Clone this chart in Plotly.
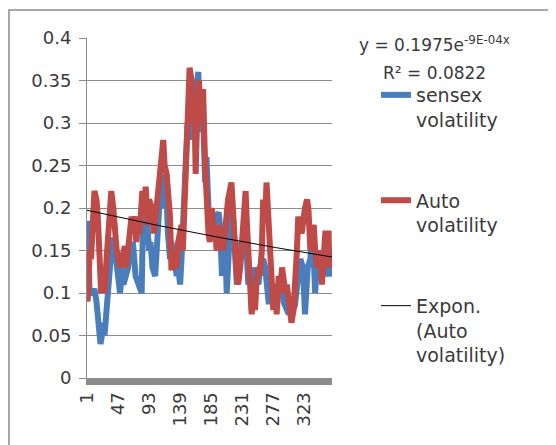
import math
import plotly.graph_objects as go

# ---- data ----
SENSEX_IDX = [1, 3, 5, 10, 12, 15, 17, 19, 21, 23, 25, 27, 31, 34, 37, 40, 42, 45, 47, 50,
              53, 55, 58, 62, 64, 69, 73, 77, 82, 84, 87, 89, 93, 95, 98, 102, 104, 108, 111, 114,
              116, 119, 121, 124, 126, 129, 134, 136, 139, 141, 145, 148, 150, 153, 156, 158, 161, 166, 168, 171,
              173, 176, 178, 181, 183, 186, 188, 196, 198, 201, 203, 205, 208, 210, 213, 215, 218, 220, 223, 225,
              228, 230, 233, 235, 238, 240, 243, 245, 248, 250, 252, 255, 257, 262, 265, 267, 270, 272, 275, 277,
              280, 282, 287, 290, 292, 296, 300, 302, 306, 309, 312, 314, 317, 321, 324, 328, 332, 334, 337, 339,
              342, 344, 347, 349, 351, 354, 359, 361, 364]
SENSEX_VAL = [0.185, 0.15, 0.10, 0.10, 0.105, 0.09, 0.075, 0.07, 0.04, 0.05, 0.065, 0.05, 0.10, 0.12, 0.15, 0.165, 0.155, 0.14, 0.12, 0.10,
              0.13, 0.11, 0.12, 0.13, 0.15, 0.16, 0.12, 0.11, 0.10, 0.19, 0.17, 0.195, 0.15, 0.16, 0.13, 0.12, 0.16, 0.20, 0.22, 0.24,
              0.20, 0.21, 0.17, 0.14, 0.16, 0.14, 0.12, 0.13, 0.11, 0.14, 0.20, 0.26, 0.30, 0.28, 0.34, 0.29, 0.33, 0.36, 0.30, 0.29,
              0.31, 0.23, 0.26, 0.20, 0.17, 0.19, 0.18, 0.195, 0.18, 0.12, 0.16, 0.18, 0.10, 0.13, 0.20, 0.21, 0.18, 0.14, 0.11, 0.12,
              0.16, 0.14, 0.17, 0.15, 0.14, 0.11, 0.12, 0.08, 0.10, 0.13, 0.12, 0.11, 0.13, 0.14, 0.13, 0.11, 0.09, 0.09, 0.10, 0.11,
              0.10, 0.09, 0.11, 0.12, 0.09, 0.08, 0.075, 0.09, 0.08, 0.085, 0.10, 0.12, 0.14, 0.13, 0.075, 0.13, 0.14, 0.17, 0.14, 0.10,
              0.14, 0.13, 0.15, 0.12, 0.14, 0.12, 0.13, 0.12, 0.13]

AUTO_IDX = [1, 2, 5, 7, 12, 15, 17, 22, 25, 27, 30, 32, 35, 37, 40, 42, 45, 50, 52, 57,
            59, 62, 64, 67, 69, 72, 74, 77, 79, 83, 85, 88, 91, 93, 97, 100, 104, 108, 111, 114,
            116, 119, 121, 124, 126, 129, 131, 134, 136, 139, 141, 143, 145, 147, 149, 151, 153, 156, 158, 160,
            162, 164, 167, 169, 173, 176, 178, 181, 183, 186, 188, 191, 193, 196, 198, 201, 203, 205, 208, 210,
            215, 218, 220, 223, 225, 228, 230, 234, 236, 238, 240, 243, 245, 248, 250, 252, 255, 257, 260, 262,
            265, 267, 270, 272, 275, 277, 280, 282, 285, 287, 290, 292, 295, 297, 301, 304, 307, 309, 312, 314,
            319, 324, 327, 329, 332, 334, 337, 339, 342, 344, 347, 349, 351, 354, 359, 360, 362, 364]
AUTO_VAL = [0.095, 0.09, 0.15, 0.14, 0.22, 0.21, 0.19, 0.10, 0.12, 0.10, 0.14, 0.16, 0.20, 0.22, 0.20, 0.17, 0.15, 0.13, 0.14, 0.155,
            0.13, 0.15, 0.16, 0.19, 0.18, 0.19, 0.16, 0.19, 0.17, 0.22, 0.20, 0.225, 0.18, 0.21, 0.20, 0.17, 0.20, 0.23, 0.25, 0.28,
            0.25, 0.24, 0.22, 0.19, 0.13, 0.13, 0.15, 0.13, 0.16, 0.17, 0.18, 0.15, 0.20, 0.27, 0.30, 0.33, 0.365, 0.35, 0.30, 0.33,
            0.24, 0.30, 0.35, 0.30, 0.34, 0.25, 0.20, 0.17, 0.16, 0.20, 0.17, 0.18, 0.15, 0.18, 0.16, 0.17, 0.15, 0.17, 0.20, 0.21,
            0.23, 0.20, 0.16, 0.12, 0.11, 0.13, 0.15, 0.18, 0.22, 0.18, 0.14, 0.12, 0.075, 0.10, 0.08, 0.11, 0.13, 0.12, 0.15, 0.21,
            0.19, 0.23, 0.18, 0.14, 0.09, 0.08, 0.10, 0.075, 0.12, 0.10, 0.13, 0.12, 0.10, 0.11, 0.09, 0.065, 0.08, 0.10, 0.15, 0.19,
            0.17, 0.20, 0.21, 0.20, 0.15, 0.17, 0.18, 0.15, 0.13, 0.15, 0.14, 0.11, 0.13, 0.17, 0.17, 0.13, 0.15, 0.14]

X_TICKS = [1, 47, 93, 139, 185, 231, 277, 323]
Y_TICKS = [0, 0.05, 0.1, 0.15, 0.2, 0.25, 0.3, 0.35, 0.4]
Y_TICK_TEXT = ["0", "0.05", "0.1", "0.15", "0.2", "0.25", "0.3", "0.35", "0.4"]
N_POINTS = 364

# exponential trendline reported by the chart: y = 0.1975 e^(-9E-04 x)
TREND_A = 0.1975
TREND_B = -9e-4
trend_x = list(range(1, N_POINTS + 1))
trend_y = [TREND_A * math.exp(TREND_B * x) for x in trend_x]

FONT = "DejaVu Sans"
TXT = "#3a3a3a"
GRID = "#8c8c8c"

# the page body adds an 8px margin, so the figure is drawn 8px smaller
W, H = 548, 437
L, R, T, B = 79, 224, 30, 67
pw = W - L - R
ph = H - T - B

fig = go.Figure()
fig.add_trace(go.Scatter(x=SENSEX_IDX, y=SENSEX_VAL, mode="lines", name="sensex<br>volatility",
                         line=dict(color="#4A7EBB", width=6), legendgroup="a"))
fig.add_trace(go.Scatter(x=AUTO_IDX, y=AUTO_VAL, mode="lines", name="Auto<br>volatility",
                         line=dict(color="#BE4B48", width=6), legendgroup="b"))
fig.add_trace(go.Scatter(x=trend_x, y=trend_y, mode="lines", name="Expon.<br>(Auto<br>volatility)",
                         line=dict(color="black", width=1), legendgroup="c"))

fig.update_layout(
    width=W, height=H,
    margin=dict(l=L, r=R, t=T, b=B, autoexpand=False),
    paper_bgcolor="white", plot_bgcolor="white",
    font=dict(family=FONT, size=18, color=TXT),
    showlegend=True,
    legend=dict(xref="container", yref="container",
                x=368 / W, y=1 - 68 / H, xanchor="left", yanchor="top",
                maxheight=400,
                font=dict(family=FONT, size=19, color=TXT),
                tracegroupgap=53, valign="top", bgcolor="rgba(0,0,0,0)"),
    xaxis=dict(range=[1, N_POINTS], tickmode="array", tickvals=X_TICKS,
               ticktext=[str(t) for t in X_TICKS], tickangle=-90, automargin=False,
               showgrid=False, zeroline=False, showline=True, linecolor=GRID, linewidth=7,
               ticks="", tickfont=dict(family=FONT, size=18, color=TXT)),
    yaxis=dict(range=[0, 0.4], tickmode="array", tickvals=Y_TICKS, ticktext=Y_TICK_TEXT,
               automargin=False, ticklabelstandoff=4,
               showgrid=True, gridcolor=GRID, gridwidth=1, zeroline=False,
               showline=True, linecolor=GRID, linewidth=1,
               ticks="outside", ticklen=7, tickcolor=GRID,
               tickfont=dict(family=FONT, size=18, color=TXT)),
    shapes=[dict(type="rect", xref="paper", yref="paper",
                 x0=(1 - L) / pw, x1=2.5, y0=-0.5, y1=(H - B - 2) / ph,
                 line=dict(color=GRID, width=1.5))],
    annotations=[
        dict(text="y = 0.1975e<sup>-9E-04x</sup>", xref="paper", yref="paper",
             x=(426 - L) / pw, y=(H - B - 36) / ph, showarrow=False, xanchor="center", yanchor="middle",
             font=dict(family=FONT, size=17, color=TXT)),
        dict(text="R² = 0.0822", xref="paper", yref="paper",
             x=(426 - L) / pw, y=(H - B - 65) / ph, showarrow=False, xanchor="center", yanchor="middle",
             font=dict(family=FONT, size=17, color=TXT)),
    ],
)

fig.write_html("out.html")
